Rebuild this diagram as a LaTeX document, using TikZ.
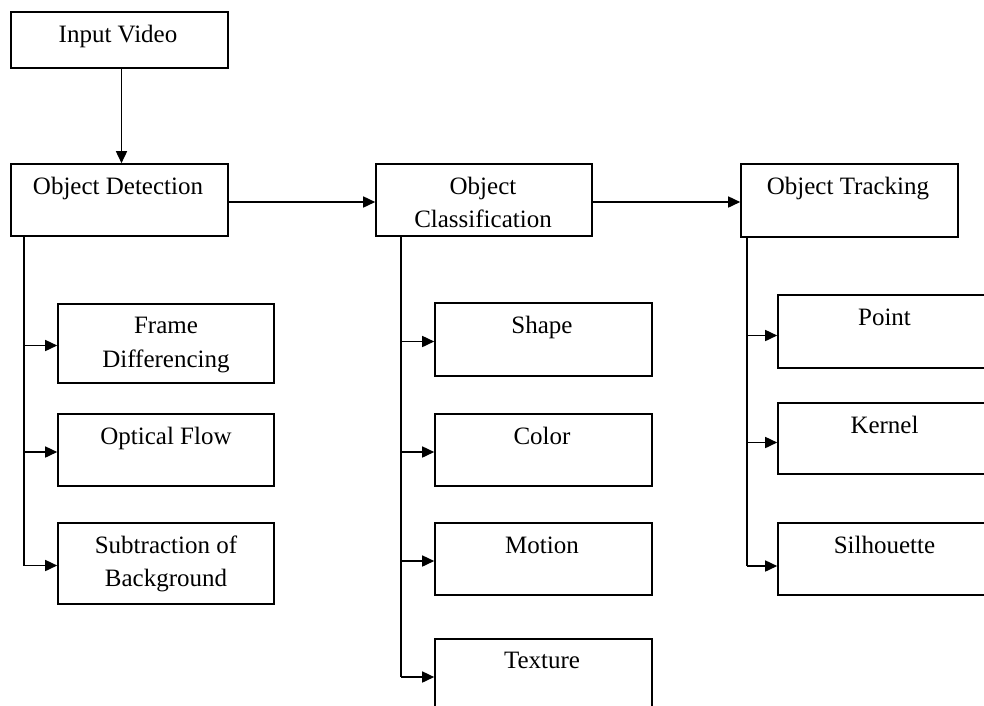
\documentclass[tikz,border=0pt]{standalone}
\usepackage{fontspec}
\setmainfont{Liberation Serif}
\usetikzlibrary{arrows.meta,calc}
\begin{document}
\begin{tikzpicture}[x=1pt,y=-1pt,
  box/.style={draw,line width=1.6pt,inner sep=0pt},
  lbl/.style={anchor=base,font=\fontsize{25}{29}\selectfont,inner sep=0pt},
  conn/.style={line width=1.6pt},
  arr/.style={conn,-{Triangle[length=12pt,width=11pt]}}]
\clip (0,0) rectangle (984,705);
\fill[white] (0,0) rectangle (984,705);
% top row
\node[box,minimum width=217pt,minimum height=56pt] (iv) at (119.5,40) {};
\node[box,minimum width=217pt,minimum height=72pt] (od) at (119.5,200) {};
\node[box,minimum width=216pt,minimum height=72pt] (oc) at (484,200) {};
\node[box,minimum width=217pt,minimum height=73pt] (ot) at (849.5,200.5) {};
% detection column
\node[box,minimum width=216pt,minimum height=79pt] (fd) at (166,343.5) {};
\node[box,minimum width=216pt,minimum height=72pt] (of) at (166,450) {};
\node[box,minimum width=216pt,minimum height=81pt] (sb) at (166,563.5) {};
% classification column
\node[box,minimum width=217pt,minimum height=73pt] (sh) at (543.5,339.5) {};
\node[box,minimum width=217pt,minimum height=72pt] (co) at (543.5,450) {};
\node[box,minimum width=217pt,minimum height=72pt] (mo) at (543.5,559) {};
\node[box,minimum width=217pt,minimum height=72pt] (tx) at (543.5,675) {};
% tracking column
\node[box,minimum width=217pt,minimum height=73pt] (pt) at (886.5,331.5) {};
\node[box,minimum width=217pt,minimum height=71pt] (ke) at (886.5,438.5) {};
\node[box,minimum width=217pt,minimum height=72pt] (si) at (886.5,559) {};
% labels
\node[lbl] (tiv) at (118,42) {Input Video};
\node[lbl] (tod) at (118,194) {Object Detection};
\node[lbl] (toc1) at (483,194) {Object};
\node[lbl] (toc2) at (483,227) {Classification};
\node[lbl] (tot) at (848,194) {Object Tracking};
\node[lbl] (tfd1) at (166,333) {Frame};
\node[lbl] (tfd2) at (166,367) {Differencing};
\node[lbl] (tof) at (166,444) {Optical Flow};
\node[lbl] (tsb1) at (166,553) {Subtraction of};
\node[lbl] (tsb2) at (166,586) {Background};
\node[lbl] (tsh) at (542,333) {Shape};
\node[lbl] (tco) at (542,444) {Color};
\node[lbl] (tmo) at (542,553) {Motion};
\node[lbl] (ttx) at (542,668) {Texture};
\node[lbl] (tpt) at (884.5,325) {Point};
\node[lbl] (tke) at (884.5,433) {Kernel};
\node[lbl] (tsi) at (884.5,553) {Silhouette};
% main flow
\draw[arr] ($(iv.south)+(2,0)$) -- ($(od.north)+(2,0)$);
\draw[arr] ($(od.east)+(0,2)$) -- ($(oc.west)+(0,2)$);
\draw[arr] ($(oc.east)+(0,2)$) -- ($(ot.west)+(0,1.5)$);
% branch trunks
\coordinate (odb) at ($(od.south west)+(14,0)$);
\coordinate (ocb) at ($(oc.south west)+(26,0)$);
\coordinate (otb) at ($(ot.south west)+(7,0)$);
\draw[conn] (odb) -- ($(odb |- sb.west)+(0,2.5)$);
\draw[conn] (ocb) -- ($(ocb |- tx.west)+(0,2)$);
\draw[conn] (otb) -- ($(otb |- si.west)+(0,7)$);
% branches
\foreach \n in {fd,of,sb} \draw[arr] ($(odb |- \n.west)+(0,2)$) -- ($(\n.west)+(0,2)$);
\foreach \n in {sh,co,mo,tx} \draw[arr] ($(ocb |- \n.west)+(0,2)$) -- ($(\n.west)+(0,2)$);
\draw[arr] ($(otb |- pt.west)+(0,4)$) -- ($(pt.west)+(0,4)$);
\draw[arr] ($(otb |- ke.west)+(0,4)$) -- ($(ke.west)+(0,4)$);
\draw[arr] ($(otb |- si.west)+(0,7)$) -- ($(si.west)+(0,7)$);
\end{tikzpicture}
\end{document}
